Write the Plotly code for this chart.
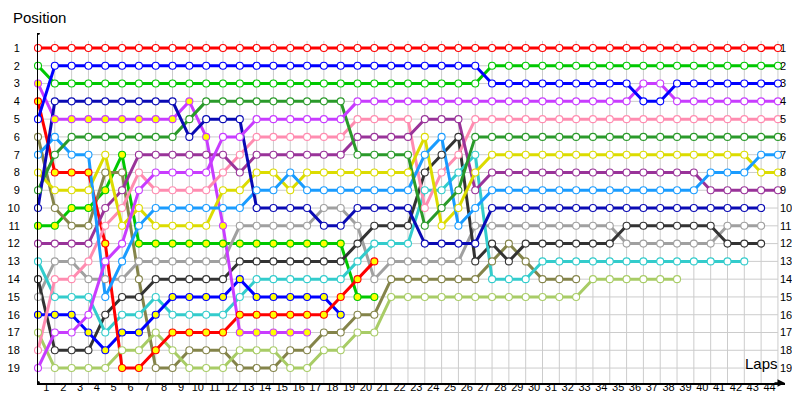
import plotly.graph_objects as go

# ---------------- data ----------------
lap_numbers = list(range(0, 45))          # lap 0 = grid
tick_laps = list(range(1, 45))
position_ticks = list(range(1, 20))

red_pos = [1, 1, 1, 1, 1, 1, 1, 1, 1, 1, 1, 1, 1, 1, 1, 1, 1, 1, 1, 1, 1, 1, 1,
           1, 1, 1, 1, 1, 1, 1, 1, 1, 1, 1, 1, 1, 1, 1, 1, 1, 1, 1, 1, 1, 1]
green_pos = [2, 3, 3, 3, 3, 3, 3, 3, 3, 3, 3, 3, 3, 3, 3, 3, 3, 3, 3, 3, 3, 3, 3,
             3, 3, 3, 3, 2, 2, 2, 2, 2, 2, 2, 2, 2, 2, 2, 2, 2, 2, 2, 2, 2, 2]
blue_pos = [5, 2, 2, 2, 2, 2, 2, 2, 2, 2, 2, 2, 2, 2, 2, 2, 2, 2, 2, 2, 2, 2, 2,
            2, 2, 2, 2, 3, 3, 3, 3, 3, 3, 3, 3, 3, 4, 4, 3, 3, 3, 3, 3, 3, 3]
magenta_y_pos = [3, 5, 5, 5, 5, 5, 5, 5, 5, 4, 6, 11, 17, 17, 17, 17, 17]
red_y_pos = [4, 8, 8, 8, 12, 19, 19, 18, 17, 17, 17, 17, 16, 16, 16, 16, 16, 16,
             15, 14, 13]
olive_pos = [6, 10, 11, 11, 8, 8, 14, 19, 19, 18, 18, 18, 19, 19, 19, 18, 18, 17,
             17, 16, 16, 14, 14, 14, 14, 14, 14, 13, 12, 13, 14, 14, 14]
lightblue_pos = [7, 6, 7, 7, 15, 13, 11, 10, 10, 10, 10, 10, 10, 9, 9, 8, 9, 9, 9,
                 9, 9, 9, 9, 7, 6, 11, 10, 9, 9, 9, 9, 9, 9, 9, 9, 9, 9, 9, 9, 9,
                 8, 8, 8, 7, 7]
yellow_pos = [8, 9, 9, 9, 7, 11, 10, 11, 11, 11, 11, 9, 9, 8, 8, 9, 8, 8, 8, 8, 8,
              8, 8, 6, 11, 10, 8, 7, 7, 7, 7, 7, 7, 7, 7, 7, 7, 7, 7, 7, 7, 7, 7,
              8, 8]
darkgreen_pos = [9, 7, 6, 6, 6, 6, 6, 6, 6, 5, 4, 4, 4, 4, 4, 4, 4, 4, 4, 7, 7, 7,
                 7, 11, 10, 9, 6, 6, 6, 6, 6, 6, 6, 6, 6, 6, 6, 6, 6, 6, 6, 6, 6,
                 6, 6]
navy_pos = [10, 4, 4, 4, 4, 4, 4, 4, 4, 6, 5, 5, 5, 10, 10, 10, 10, 11, 11, 10, 10,
            10, 10, 12, 12, 12, 12, 10, 10, 10, 10, 10, 10, 10, 10, 10, 10, 10, 10,
            10, 10, 10, 10, 10]
green_y_pos = [11, 11, 10, 10, 9, 7, 12, 12, 12, 12, 12, 12, 12, 12, 12, 12, 12, 12,
               12, 15, 15]
purple_pos = [12, 12, 12, 12, 10, 9, 7, 7, 7, 7, 7, 7, 8, 7, 7, 7, 7, 7, 7, 6, 6, 6,
              6, 5, 5, 5, 9, 8, 8, 8, 8, 8, 8, 8, 8, 8, 8, 8, 8, 8, 9, 9, 9, 9, 9]
cyan_pos = [13, 15, 15, 15, 17, 16, 16, 15, 16, 16, 16, 16, 15, 14, 14, 14, 14, 14,
            14, 13, 12, 12, 12, 9, 9, 8, 7, 14, 14, 14, 13, 13, 13, 13, 13, 13, 13,
            13, 13, 13, 13, 13, 13]
darkgrey_pos = [14, 18, 18, 18, 16, 15, 15, 14, 14, 14, 14, 14, 13, 13, 13, 13, 13,
                13, 13, 12, 11, 11, 11, 8, 7, 6, 13, 12, 13, 12, 12, 12, 12, 12, 12,
                11, 11, 11, 11, 11, 11, 12, 12, 12]
grey_pos = [15, 13, 13, 14, 14, 14, 13, 13, 13, 13, 13, 13, 11, 11, 11, 11, 11, 10,
            10, 11, 14, 13, 13, 13, 13, 13, 11, 11, 11, 11, 11, 11, 11, 11, 11, 12,
            12, 12, 12, 12, 12, 11, 11, 11]
blue_y_pos = [16, 16, 16, 17, 18, 17, 17, 16, 15, 15, 15, 15, 14, 15, 15, 15, 15,
              15, 16]
lightolive_pos = [17, 19, 19, 19, 19, 18, 18, 17, 18, 19, 19, 19, 18, 18, 18, 19,
                  19, 18, 18, 17, 17, 15, 15, 15, 15, 15, 15, 15, 15, 15, 15, 15,
                  15, 14, 14, 14, 14, 14, 14]
pink_pos = [18, 14, 14, 13, 11, 10, 8, 9, 9, 9, 9, 8, 7, 6, 6, 6, 6, 6, 6, 5, 5, 5,
            5, 10, 8, 7, 5, 5, 5, 5, 5, 5, 5, 5, 5, 5, 5, 5, 5, 5, 5, 5, 5, 5, 5]
magenta_pos = [19, 17, 17, 16, 13, 12, 9, 8, 8, 8, 8, 6, 6, 5, 5, 5, 5, 5, 5, 4, 4,
               4, 4, 4, 4, 4, 4, 4, 4, 4, 4, 4, 4, 4, 4, 4, 3, 3, 4, 4, 4, 4, 4, 4,
               4]

# (positions, line colour, marker fill)
drivers = [
    (green_y_pos, "#00c800", "#ffff00"),
    (olive_pos, "#84844a", "#ffffff"),
    (lightolive_pos, "#a8cc66", "#ffffff"),
    (grey_pos, "#a0a0a0", "#ffffff"),
    (darkgrey_pos, "#333333", "#ffffff"),
    (cyan_pos, "#33cccc", "#ffffff"),
    (blue_y_pos, "#0000ff", "#ffff00"),
    (red_y_pos, "#ff0000", "#ffff00"),
    (magenta_y_pos, "#c83cff", "#ffff00"),
    (pink_pos, "#ff8cb0", "#ffffff"),
    (purple_pos, "#993399", "#ffffff"),
    (yellow_pos, "#dcdc00", "#ffffff"),
    (lightblue_pos, "#1a9cff", "#ffffff"),
    (darkgreen_pos, "#2a9a2a", "#ffffff"),
    (navy_pos, "#0a0ab4", "#ffffff"),
    (magenta_pos, "#c83cff", "#ffffff"),
    (green_pos, "#00c800", "#ffffff"),
    (blue_pos, "#0000ff", "#ffffff"),
    (red_pos, "#ff0000", "#ffffff"),
]

X_MAX = 44.42
Y_BOTTOM = 19.84
Y_TOP = 0.156

fig = go.Figure()

# lines first
for pos, col, fill in drivers:
    fig.add_trace(go.Scatter(
        x=lap_numbers[:len(pos)], y=pos, mode="lines",
        line=dict(color=col, width=3), hoverinfo="skip", showlegend=False))

# markers on top
for pos, col, fill in drivers:
    fig.add_trace(go.Scatter(
        x=lap_numbers[:len(pos)], y=pos, mode="markers",
        marker=dict(symbol="circle", size=7, color=fill,
                    line=dict(color=col, width=1.1)),
        cliponaxis=False, showlegend=False))

# grid
shapes = []
for lap in tick_laps:
    shapes.append(dict(type="line", xref="x", yref="y", x0=lap, x1=lap,
                       y0=0.6, y1=Y_BOTTOM, layer="below",
                       line=dict(color="#cccccc", width=1)))
for p in position_ticks:
    shapes.append(dict(type="line", xref="x", yref="y", x0=0, x1=44,
                       y0=p, y1=p, layer="below",
                       line=dict(color="#cccccc", width=1)))
# axis end dots
shapes.append(dict(type="circle", xref="x", yref="y", xsizemode="pixel",
                   ysizemode="pixel", xanchor=0, yanchor=Y_TOP,
                   x0=-2, x1=2, y0=-2, y1=2, fillcolor="black",
                   line=dict(width=0)))
shapes.append(dict(type="circle", xref="x", yref="y", xsizemode="pixel",
                   ysizemode="pixel", xanchor=0, yanchor=Y_BOTTOM,
                   x0=-2, x1=2, y0=-2, y1=2, fillcolor="black",
                   line=dict(width=0)))

font_family = "Liberation Sans, Arial, sans-serif"

fig.update_layout(
    width=800, height=400,
    margin=dict(l=30, r=23, t=25, b=25, autoexpand=False),
    paper_bgcolor="white", plot_bgcolor="white",
    shapes=shapes,
    font=dict(family=font_family, size=11, color="#000000"),
    xaxis=dict(range=[0, X_MAX], tickmode="array",
               tickvals=[n - 0.5 for n in tick_laps],
               ticktext=[str(n) for n in tick_laps],
               showgrid=False, zeroline=False, showline=True,
               linecolor="black", linewidth=2, ticks="", automargin=False,
               ticklabelstandoff=-7,
               tickfont=dict(size=11, color="#000000")),
    yaxis=dict(range=[Y_BOTTOM, Y_TOP], tickmode="array",
               tickvals=position_ticks,
               ticktext=[str(p) for p in position_ticks],
               showgrid=False, zeroline=False, showline=True,
               linecolor="black", linewidth=1, ticks="", automargin=False,
               ticklabelstandoff=15,
               tickfont=dict(size=11, color="#000000")),
    yaxis2=dict(range=[Y_BOTTOM, Y_TOP], tickmode="array",
                tickvals=position_ticks,
                ticktext=[str(p) for p in position_ticks],
                overlaying="y", side="right", anchor="x", automargin=False,
                showgrid=False, zeroline=False, showline=False, ticks="",
                ticklabelstandoff=-6,
                tickfont=dict(size=11, color="#000000")),
    annotations=[
        dict(text="Position", xref="paper", yref="paper", x=-0.036, y=1.045,
             xanchor="left", yanchor="middle", showarrow=False,
             font=dict(size=15, family=font_family, color="#000000")),
        dict(text="Laps", xref="paper", yref="paper", x=0.993, y=0.057,
             xanchor="right", yanchor="middle", showarrow=False,
             font=dict(size=15, family=font_family, color="#000000")),
        dict(text="", xref="x", yref="y", x=X_MAX, y=Y_BOTTOM, ax=-12, ay=0,
             axref="pixel", ayref="pixel", showarrow=True, arrowhead=2,
             arrowsize=1, arrowwidth=1.5, arrowcolor="black"),
    ],
)

# invisible trace to activate the right-hand axis
fig.add_trace(go.Scatter(x=[0], y=[1], yaxis="y2", mode="markers",
                         marker=dict(opacity=0), hoverinfo="skip",
                         showlegend=False))

fig.write_html("out.html")
